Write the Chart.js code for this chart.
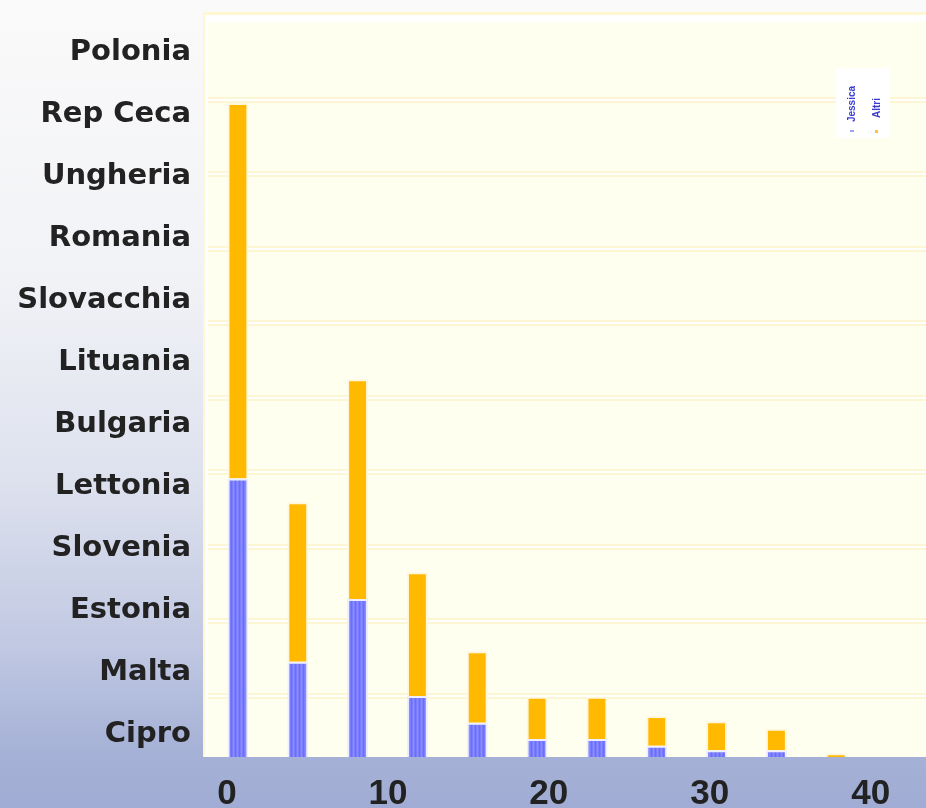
<!DOCTYPE html>
<html>
<head>
<meta charset="utf-8">
<script src="https://cdn.jsdelivr.net/npm/chart.js@4"></script>
<style>
html,body{margin:0;padding:0;background:#fff;}
#wrap{width:926px;height:808px;}
</style>
</head>
<body>
<div id="wrap"><canvas id="c" width="926" height="808"></canvas></div>
<script>
// countries, top to bottom as in the picture (also the order of the bars)
const countries = ["Polonia","Rep Ceca","Ungheria","Romania","Slovacchia","Lituania","Bulgaria","Lettonia","Slovenia","Estonia","Malta","Cipro"];
const xTickValues = [0,10,20,30,40];
const seriesNames = ["Jessica","Altri"];
const blueValues   = [37.4,12.8,21.2,8.2,4.6,2.4,2.4,1.5,0.9,0.9,0,0];
const orangeValues = [50.4,21.4,29.5,16.6,9.6,5.7,5.7,4.0,3.9,2.9,0.5,0];

const canvas = document.getElementById("c");
const ctx = canvas.getContext("2d");

// striped blue fill
function stripes(){
const p = document.createElement("canvas");
p.width = 4; p.height = 4;
const g = p.getContext("2d");
g.fillStyle = "#7b7dff"; g.fillRect(0,0,4,4);
g.fillStyle = "#6d6ff3"; g.fillRect(3,0,1,4);
g.fillStyle = "#8a8cff"; g.fillRect(1,0,1,4);
return ctx.createPattern(p,"repeat");
}

const bgPlugin = {
id:"bg",
beforeDraw(chart){
const c = chart.ctx, a = chart.chartArea;
c.save();
const grad = c.createLinearGradient(0,0,0,chart.height);
grad.addColorStop(0,"#fafafa");
grad.addColorStop(0.35,"#f1f2f6");
grad.addColorStop(0.6,"#dde1ee");
grad.addColorStop(0.8,"#c0c8e2");
grad.addColorStop(0.93,"#a5b1d6");
grad.addColorStop(1,"#a0acd3");
c.fillStyle = grad;
c.fillRect(0,0,chart.width,chart.height);
// frame around the plot
c.fillStyle = "#fdf8d2";
c.fillRect(a.left-5,a.top-10,a.right-a.left+5,a.bottom-a.top+10);
c.fillStyle = "#ffffff";
c.fillRect(a.left-3,a.top-7,a.right-a.left+3,a.bottom-a.top+7);
c.fillStyle = "#fffff0";
c.fillRect(a.left,a.top,a.right-a.left,a.bottom-a.top);
c.restore();
}
};

// tiny rotated legend box in the top right corner
const legendPlugin = {
id:"sideLegend",
afterDraw(chart){
const c = chart.ctx, a = chart.chartArea;
const x0 = a.right-90, y0 = 68;
c.save();
c.fillStyle = "#ffffff";
c.fillRect(x0,y0,54,70);
c.font = "bold 10px 'Liberation Sans'";
c.fillStyle = "#3a3ad0";
c.textAlign = "center";
c.textBaseline = "middle";
[[16,36],[41,40]].forEach((p,i)=>{
c.save();
c.translate(x0+p[0],y0+p[1]);
c.rotate(-Math.PI/2);
c.fillText(seriesNames[i],0,0);
c.restore();
});
c.fillStyle = "#a0a0ff"; c.fillRect(x0+14,y0+62,4,2);
c.fillStyle = "#ffc040"; c.fillRect(x0+39,y0+62,3,3);
c.restore();
}
};

const gridStart = 88.2, gridStep = 10, yMax = 98.66;
function gridTicks(s){
const t = [];
for(let v=gridStart; v>0; v-=gridStep) t.push({value:v});
s.ticks = t;
}

new Chart(canvas,{
type:"bar",
data:{
labels:countries,
datasets:[
{label:seriesNames[0],data:blueValues,xAxisID:"x",yAxisID:"y",backgroundColor:stripes(),borderColor:"#eeeeff",borderWidth:2,barPercentage:0.7,categoryPercentage:0.5},
{label:seriesNames[1],data:orangeValues,xAxisID:"x",yAxisID:"y",backgroundColor:"#ffb900",borderColor:"#fff6dc",borderWidth:2,barPercentage:0.7,categoryPercentage:0.5}
]
},
options:{
responsive:false,
animation:false,
devicePixelRatio:1,
layout:{padding:{top:22,left:0,right:0,bottom:0}},
plugins:{legend:{display:false},tooltip:{enabled:false}},
scales:{
x:{type:"category",stacked:true,display:false},
y:{type:"linear",stacked:true,position:"right",min:0,max:yMax,
grid:{color:"#ffffff",lineWidth:2,drawTicks:false,z:-1},border:{display:false},
ticks:{display:false},afterBuildTicks:gridTicks,afterFit(s){s.width=0;}},
yg:{type:"linear",position:"right",min:0,max:yMax,
grid:{color:"#fcf7d2",lineWidth:6,drawTicks:false,z:-2},border:{display:false},
ticks:{display:false},afterBuildTicks:gridTicks,afterFit(s){s.width=0;}},
x2:{type:"linear",position:"bottom",offset:false,min:-1.18,max:43.44,
grid:{display:false,drawTicks:false,offset:false},border:{display:false},
ticks:{color:"#222222",padding:16,font:{family:"'Liberation Sans', Arial",size:35,weight:"bold"}},
afterBuildTicks(s){s.ticks = xTickValues.map(v=>({value:v}));},
afterFit(s){s.height=51;s.paddingLeft=0;s.paddingRight=0;}},
y2:{type:"linear",position:"left",reverse:true,min:-0.5,max:11.37,
grid:{display:false,drawTicks:false},border:{display:false},
ticks:{color:"#222222",padding:17,font:{family:"'DejaVu Sans'",size:29,weight:"bold"},
callback:(v)=>countries[v]},
afterBuildTicks(s){s.ticks = countries.map((c,i)=>({value:i}));},
afterFit(s){s.width=208;s.paddingTop=0;s.paddingBottom=0;}}
}
},
plugins:[bgPlugin,legendPlugin]
});
</script>
</body>
</html>
